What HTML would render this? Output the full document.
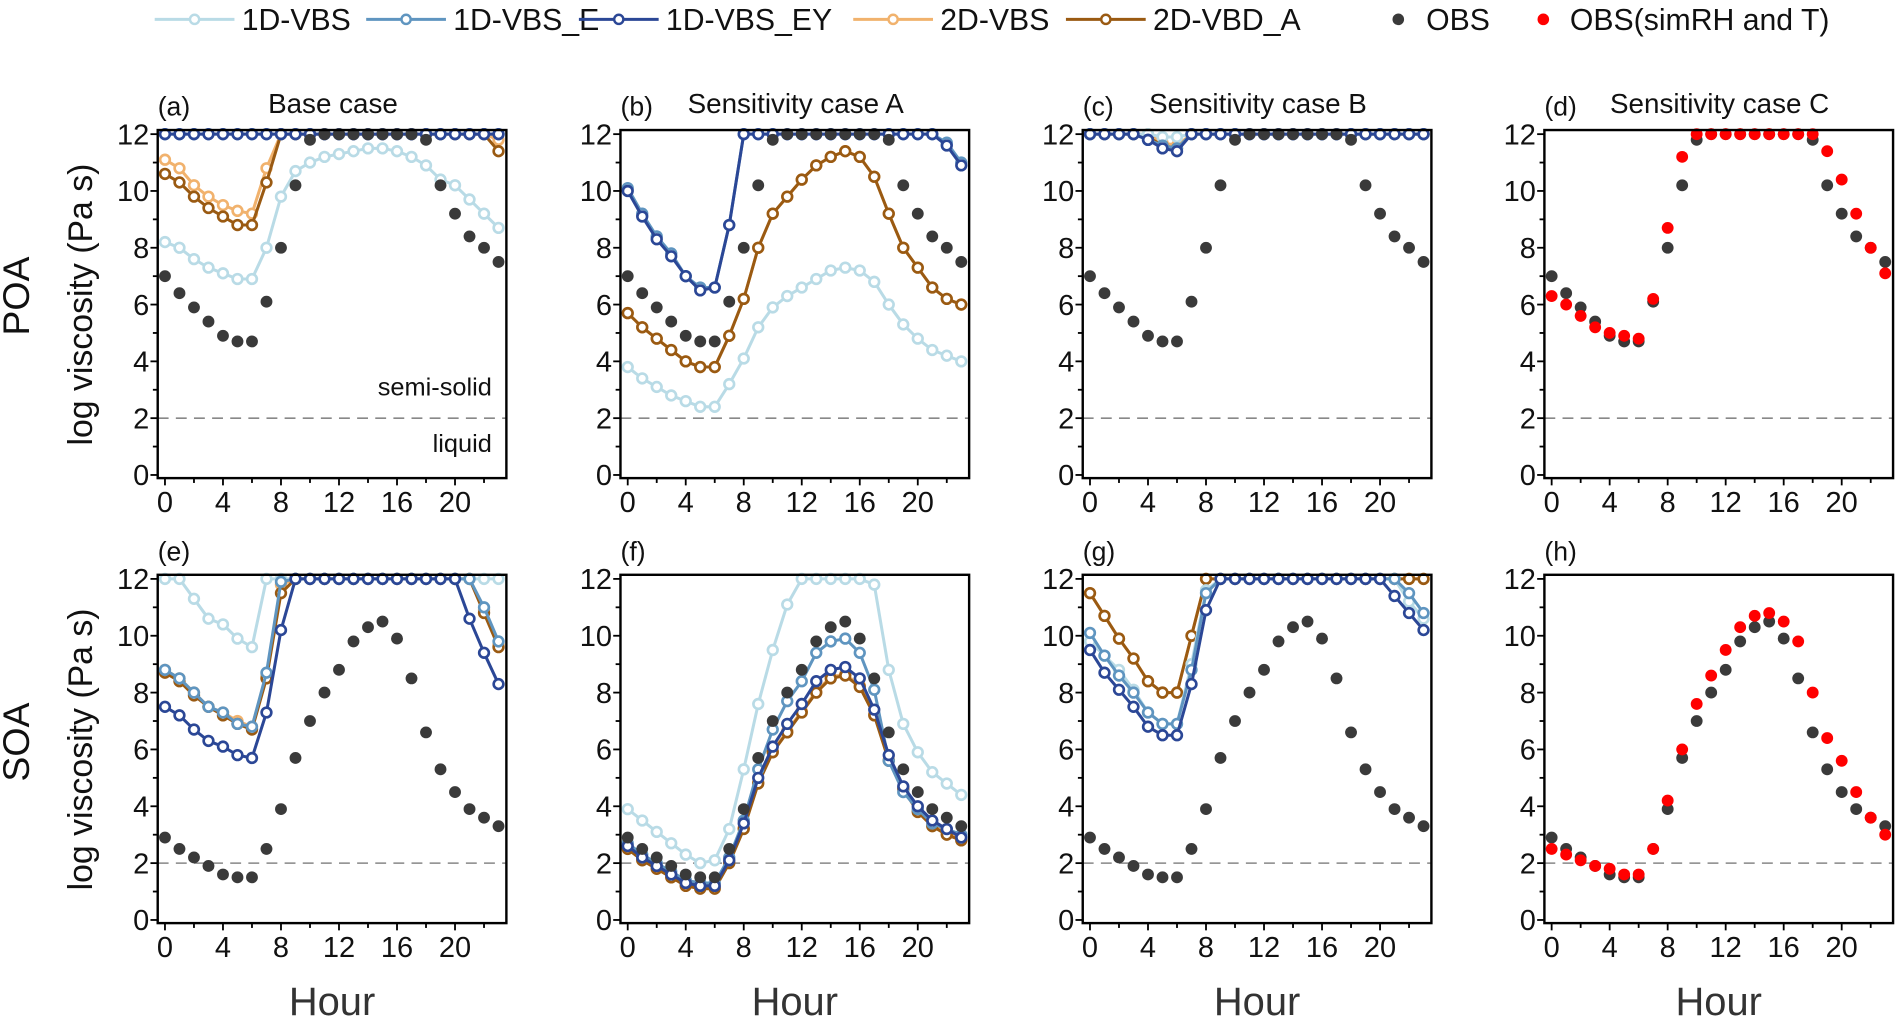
<!DOCTYPE html>
<html><head><meta charset="utf-8"><style>
html,body{margin:0;padding:0;background:#fff;}
svg{display:block;font-family:"Liberation Sans",sans-serif;}
</style></head><body>
<svg id="fig" width="1895" height="1032" viewBox="0 0 1568 853.9" preserveAspectRatio="none" xmlns="http://www.w3.org/2000/svg"></svg>
<script>
const hours = [0,1,2,3,4,5,6,7,8,9,10,11,12,13,14,15,16,17,18,19,20,21,22,23];
const xTicks = [0,4,8,12,16,20];
const yTicks = [0,2,4,6,8,10,12];
const seriesNames = ["1D-VBS","1D-VBS_E","1D-VBS_EY","2D-VBS","2D-VBD_A"];
const seriesColors = ["#b9dbe6","#5f95c0","#2b4796","#f1b26d","#9a5a12"];
const drawOrder = [3,4,0,1,2];
const panelLetters = ["(a)","(b)","(c)","(d)","(e)","(f)","(g)","(h)"];
const panelTitles = ["Base case","Sensitivity case A","Sensitivity case B","Sensitivity case C","","","",""];

const obsPOA = [7.0,6.4,5.9,5.4,4.9,4.7,4.7,6.1,8.0,10.2,11.8,12,12,12,12,12,12,12,11.8,10.2,9.2,8.4,8.0,7.5];
const obsSOA = [2.9,2.5,2.2,1.9,1.6,1.5,1.5,2.5,3.9,5.7,7.0,8.0,8.8,9.8,10.3,10.5,9.9,8.5,6.6,5.3,4.5,3.9,3.6,3.3];
const simPOA_d = [6.3,6.0,5.6,5.2,5.0,4.9,4.8,6.2,8.7,11.2,12,12,12,12,12,12,12,12,12,11.4,10.4,9.2,8.0,7.1];
const simSOA_h = [2.5,2.3,2.1,1.9,1.8,1.6,1.6,2.5,4.2,6.0,7.6,8.6,9.5,10.3,10.7,10.8,10.5,9.8,8.0,6.4,5.6,4.5,3.6,3.0];

const a_vbs  = [8.2,8.0,7.6,7.3,7.1,6.9,6.9,8.0,9.8,10.7,11.0,11.2,11.3,11.4,11.5,11.5,11.4,11.2,10.9,10.4,10.2,9.7,9.2,8.7];
const a_e    = [12,12,12,12,12,12,12,12,12,12,12,12,12,12,12,12,12,12,12,12,12,12,12,12];
const a_ey   = [12,12,12,12,12,12,12,12,12,12,12,12,12,12,12,12,12,12,12,12,12,12,12,12];
const a_2d   = [11.1,10.8,10.2,9.8,9.5,9.3,9.2,10.8,12,12,12,12,12,12,12,12,12,12,12,12,12,12,12,11.8];
const a_2da  = [10.6,10.3,9.8,9.4,9.1,8.8,8.8,10.3,12,12,12,12,12,12,12,12,12,12,12,12,12,12,12,11.4];

const b_vbs  = [3.8,3.4,3.1,2.8,2.6,2.4,2.4,3.2,4.1,5.2,5.9,6.3,6.6,6.9,7.2,7.3,7.2,6.8,6.0,5.3,4.8,4.4,4.2,4.0];
const b_e    = [10.1,9.2,8.4,7.8,7.0,6.6,6.6,8.8,12,12,12,12,12,12,12,12,12,12,12,12,12,12,11.7,11.0];
const b_ey   = [10.0,9.1,8.3,7.7,7.0,6.5,6.6,8.8,12,12,12,12,12,12,12,12,12,12,12,12,12,12,11.6,10.9];
const b_2d   = [5.7,5.2,4.8,4.4,4.0,3.8,3.8,4.9,6.2,8.0,9.2,9.8,10.4,10.9,11.2,11.4,11.2,10.5,9.2,8.0,7.3,6.6,6.2,6.0];
const b_2da  = [5.7,5.2,4.8,4.4,4.0,3.8,3.8,4.9,6.2,8.0,9.2,9.8,10.4,10.9,11.2,11.4,11.2,10.5,9.2,8.0,7.3,6.6,6.2,6.0];

const c_vbs  = [12,12,12,12,12,11.9,11.9,12,12,12,12,12,12,12,12,12,12,12,12,12,12,12,12,12];
const c_e    = [12,12,12,12,11.8,11.6,11.5,12,12,12,12,12,12,12,12,12,12,12,12,12,12,12,12,12];
const c_ey   = [12,12,12,12,11.8,11.5,11.4,12,12,12,12,12,12,12,12,12,12,12,12,12,12,12,12,12];
const c_2d   = [12,12,12,12,12,11.7,11.6,12,12,12,12,12,12,12,12,12,12,12,12,12,12,12,12,12];
const c_2da  = [12,12,12,12,11.9,11.6,11.5,12,12,12,12,12,12,12,12,12,12,12,12,12,12,12,12,12];

const e_vbs  = [12,12,11.3,10.6,10.4,9.9,9.6,12,12,12,12,12,12,12,12,12,12,12,12,12,12,12,12,12];
const e_e    = [8.8,8.5,8.0,7.5,7.3,6.9,6.8,8.7,11.9,12,12,12,12,12,12,12,12,12,12,12,12,12,11.0,9.8];
const e_ey   = [7.5,7.2,6.7,6.3,6.1,5.8,5.7,7.3,10.2,12,12,12,12,12,12,12,12,12,12,12,12,10.6,9.4,8.3];
const e_2d   = [8.8,8.5,8.0,7.5,7.3,7.0,6.8,8.6,11.8,12,12,12,12,12,12,12,12,12,12,12,12,12,10.9,9.7];
const e_2da  = [8.7,8.4,7.9,7.5,7.2,6.9,6.7,8.5,11.5,12,12,12,12,12,12,12,12,12,12,12,12,12,10.8,9.6];

const f_vbs  = [3.9,3.5,3.1,2.7,2.3,2.0,2.1,3.2,5.3,7.6,9.5,11.1,12,12,12,12,12,11.8,8.8,6.9,5.9,5.2,4.8,4.4];
const f_e    = [2.7,2.3,2.0,1.7,1.4,1.3,1.3,2.2,3.5,5.3,6.7,7.7,8.4,9.4,9.8,9.9,9.4,8.1,5.6,4.5,3.9,3.4,3.2,3.0];
const f_ey   = [2.6,2.2,1.9,1.6,1.3,1.2,1.2,2.1,3.4,5.0,6.1,6.9,7.6,8.4,8.8,8.9,8.5,7.4,5.8,4.7,4.0,3.5,3.2,2.9];
const f_2d   = [2.55,2.15,1.85,1.55,1.25,1.15,1.15,2.05,3.25,4.85,5.95,6.65,7.35,8.05,8.55,8.65,8.25,7.25,5.65,4.65,3.85,3.35,3.05,2.85];
const f_2da  = [2.5,2.1,1.8,1.5,1.2,1.1,1.1,2.0,3.2,4.8,5.9,6.6,7.3,8.0,8.5,8.6,8.2,7.2,5.6,4.6,3.8,3.3,3.0,2.8];

const g_vbs  = [9.8,9.3,8.8,8.1,7.3,6.9,6.9,9.0,11.6,12,12,12,12,12,12,12,12,12,12,12,12,12,11.2,10.6];
const g_e    = [10.1,9.3,8.6,8.0,7.3,6.9,6.9,8.8,11.5,12,12,12,12,12,12,12,12,12,12,12,12,12,11.5,10.8];
const g_ey   = [9.5,8.7,8.1,7.5,6.8,6.5,6.5,8.3,10.9,12,12,12,12,12,12,12,12,12,12,12,12,11.4,10.8,10.2];
const g_2d   = [11.5,10.7,9.9,9.2,8.4,8.0,8.0,10.0,12,12,12,12,12,12,12,12,12,12,12,12,12,12,12,12];
const g_2da  = [11.5,10.7,9.9,9.2,8.4,8.0,8.0,10.0,12,12,12,12,12,12,12,12,12,12,12,12,12,12,12,12];

const panelSeries = [
  [a_vbs,a_e,a_ey,a_2d,a_2da],[b_vbs,b_e,b_ey,b_2d,b_2da],[c_vbs,c_e,c_ey,c_2d,c_2da],null,
  [e_vbs,e_e,e_ey,e_2d,e_2da],[f_vbs,f_e,f_ey,f_2d,f_2da],[g_vbs,g_e,g_ey,g_2d,g_2da],null
];
const panelSim = [null,null,null,simPOA_d,null,null,null,simSOA_h];

const NS = "http://www.w3.org/2000/svg";
const svg = document.getElementById("fig");
function mk(tag, attrs, parent, text){
  const e = document.createElementNS(NS, tag);
  for (const k in attrs) e.setAttribute(k, attrs[k]);
  if (text !== undefined) e.textContent = text;
  (parent||svg).appendChild(e);
  return e;
}
const X0 = [136.5, 519.4, 901.9, 1283.9];
const HR = 12.0;
const rowY0 = [393, 761.2];
const rowY12 = [111, 479];

// legend
const legX = [128, 303, 479, 706, 882];
seriesNames.forEach((n,i)=>{
  const g = mk("g",{});
  
  
  mk("line",{x1:legX[i],y1:16,x2:legX[i]+66,y2:16,stroke:seriesColors[i],"stroke-width":2.5},g);
  mk("circle",{cx:legX[i]+33,cy:16,r:3.8,fill:"#fff",stroke:seriesColors[i],"stroke-width":2},g);
  mk("text",{x:legX[i]+72,y:25,"font-size":25,fill:"#111"},g,n);
});
{
  const g = mk("g",{});
  
  
  mk("circle",{cx:1157,cy:16,r:4.8,fill:"#3a3a3a"},g);
  mk("text",{x:1180,y:25,"font-size":25,fill:"#111"},g,"OBS");
  const g2 = mk("g",{});
  
  
  mk("circle",{cx:1277,cy:16,r:4.8,fill:"#ff0000"},g2);
  mk("text",{x:1299,y:25,"font-size":25,fill:"#111"},g2,"OBS(simRH and T)");
}

// row labels
[["POA",245],["SOA",614]].forEach(([t,cy],r)=>{
  const e = mk("text",{x:0,y:0,"font-size":31,"text-anchor":"middle",transform:`translate(24,${cy}) rotate(-90)`,fill:"#111"},svg,t);
  
  
  const e2 = mk("text",{x:0,y:0,"font-size":28,"text-anchor":"middle",transform:`translate(76,${(rowY0[r]+rowY12[r])/2}) rotate(-90)`,fill:"#111"},svg,"log viscosity (Pa s)");
  
  
});

for (let p=0;p<8;p++){
  const row = Math.floor(p/4), col = p%4;
  const x0 = X0[col], y0 = rowY0[row], y12 = rowY12[row];
  const sx = h => x0 + h*HR;
  const sy = v => y0 - v*(y0-y12)/12;
  const g = mk("g",{});
  
  
  const L = x0-6, R = x0+282.5, T = y12-3.4, B = y0+2.6;
  const d = mk("line",{x1:L,x2:R,y1:sy(2),y2:sy(2),stroke:"#888","stroke-width":1.3,"stroke-dasharray":"9,6"},g);
  
  
  for (let v=0; v<=12; v++){
    const major = v%2===0;
    mk("line",{x1:L,x2:L-(major?6:4),y1:sy(v),y2:sy(v),stroke:"#000","stroke-width":1.5},g);
  }
  yTicks.forEach(v=>{
    const t = mk("text",{x:L-7,y:sy(v)+8.5,"font-size":24,"text-anchor":"end",fill:"#111"},g,String(v));
    
    
  });
  for (let h=0; h<=22; h+=2){
    const major = h%4===0;
    mk("line",{x1:sx(h),x2:sx(h),y1:B,y2:B+(major?6:4),stroke:"#000","stroke-width":1.5},g);
  }
  xTicks.forEach(h=>{
    const t = mk("text",{x:sx(h),y:B+28,"font-size":24,"text-anchor":"middle",fill:"#111"},g,String(h));
    
    
  });
  const ser = panelSeries[p];
  if (ser){
    drawOrder.forEach(i=>{
      const vals = ser[i];
      const sg = mk("g",{},g);
      
      
      const pts = vals.map((v,k)=>sx(hours[k])+","+sy(v)).join(" ");
      mk("polyline",{points:pts,fill:"none",stroke:seriesColors[i],"stroke-width":2.5,"stroke-linejoin":"round"},sg);
      vals.forEach((v,k)=>{
        const c = mk("circle",{cx:sx(hours[k]),cy:sy(v),r:4.0,fill:"#fff",stroke:seriesColors[i],"stroke-width":2.2},sg);
        
        
      });
    });
  }
  const obs = row===0 ? obsPOA : obsSOA;
  const sim = panelSim[p];
  const og = mk("g",{},g);
  
  
  obs.forEach((v,k)=>{
    const c = mk("circle",{cx:sx(hours[k]),cy:sy(v),r:4.9,fill:"#3a3a3a"},og);
    
    
  });
  if (sim){
    const rg = mk("g",{},g);
    
    
    sim.forEach((v,k)=>{
      const c = mk("circle",{cx:sx(hours[k]),cy:sy(v),r:4.9,fill:"#ff0000"},rg);
      
      
    });
  }
  mk("rect",{x:L,y:T,width:R-L,height:B-T,fill:"none",stroke:"#000","stroke-width":2},g);
  const lt = mk("text",{x:L,y:T-12,"font-size":22,fill:"#111"},g,panelLetters[p]);
  
  
  if (panelTitles[p]){
    const tt = mk("text",{x:L+145,y:T-14,"font-size":23,"text-anchor":"middle",fill:"#111"},g,panelTitles[p]);
    
    
  }
  if (p===0){
    const s1 = mk("text",{x:R-12,y:sy(3.1)+7,"font-size":21,"text-anchor":"end",fill:"#111"},g,"semi-solid");
    
    
    const s2 = mk("text",{x:R-12,y:sy(1.1)+7,"font-size":21,"text-anchor":"end",fill:"#111"},g,"liquid");
    
    
  }
  if (row===1){
    const ht = mk("text",{x:(L+R)/2,y:840,"font-size":33,"text-anchor":"middle",fill:"#333"},g,"Hour");
    
    
  }
}
</script>
</body></html>
